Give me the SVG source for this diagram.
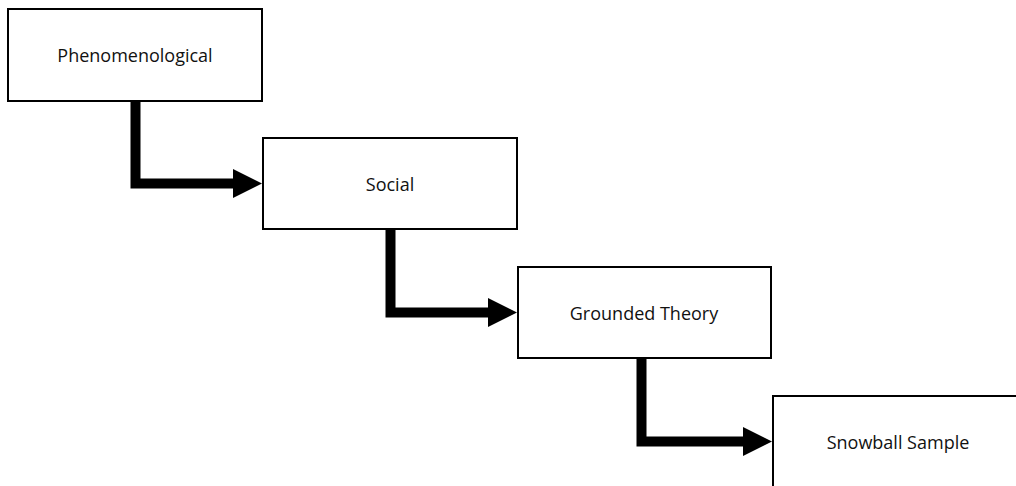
<svg xmlns="http://www.w3.org/2000/svg" width="1016" height="486" viewBox="0 0 1016 486">
  <style>
    .box { fill: #ffffff; stroke: #000000; stroke-width: 2; }
    .label { font-family: "Open Sans", "Liberation Sans", sans-serif; font-size: 18px; fill: #111111; text-anchor: middle; dominant-baseline: central; }
    .link { fill: none; stroke: #000000; stroke-width: 10; stroke-linejoin: miter; }
    .head { fill: #000000; }
  </style>
  <rect width="1016" height="486" fill="#ffffff"/>

  <g id="connectors">
    <g id="link-1">
      <path class="link" d="M135.5 100 V183.5 H235"/>
      <polygon class="head" points="233,169 262,183.5 233,198"/>
    </g>
    <g id="link-2">
      <path class="link" d="M390.5 229 V312.5 H490"/>
      <polygon class="head" points="488,298 517,312.5 488,327"/>
    </g>
    <g id="link-3">
      <path class="link" d="M641.5 358 V441.5 H745"/>
      <polygon class="head" points="743,427 772,441.5 743,456"/>
    </g>
  </g>

  <g id="node-phenomenological">
    <rect class="box" x="8" y="9" width="254" height="92"/>
    <text class="label" x="135" y="55">Phenomenological</text>
  </g>
  <g id="node-social">
    <rect class="box" x="263" y="138" width="254" height="91"/>
    <text class="label" x="390" y="184">Social</text>
  </g>
  <g id="node-grounded-theory">
    <rect class="box" x="518" y="267" width="253" height="91"/>
    <text class="label" x="644" y="313">Grounded Theory</text>
  </g>
  <g id="node-snowball-sample">
    <rect class="box" x="773" y="396" width="254" height="100"/>
    <text class="label" x="898" y="442">Snowball Sample</text>
  </g>
</svg>
